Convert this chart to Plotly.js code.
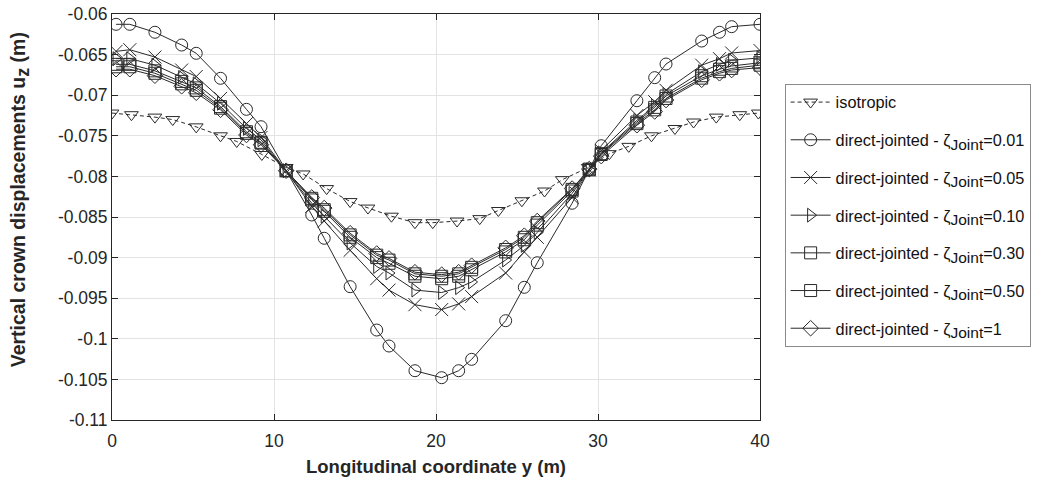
<!DOCTYPE html>
<html>
<head>
<meta charset="utf-8">
<script src="https://cdn.plot.ly/plotly-3.0.1.min.js"></script>
<style>
  html, body { margin: 0; padding: 0; background: #fff; }
  #chart { width: 1043px; height: 480px; }
</style>
</head>
<body>
<div id="chart"></div>
<script>
// x positions (m)
const xIso = [0, 1.2, 2.65, 3.75, 5.2, 6.7, 7.7, 9.25, 10.75, 11.8, 13.25, 14.7, 15.8, 17.25, 18.7, 19.8, 21.3, 22.7, 23.85, 25.3, 26.7, 27.8, 29.4, 30.7, 31.9, 33.3, 34.75, 35.9, 37.3, 38.75, 39.9];
const xJoint = [0.25, 1.1, 2.65, 4.3, 5.2, 6.7, 8.3, 9.2, 10.75, 12.33, 13.1, 14.7, 16.34, 17.1, 18.7, 20.35, 21.4, 22.2, 24.3, 25.45, 26.25, 28.4, 29.46, 30.2, 32.4, 33.5, 34.2, 36.4, 37.5, 38.25, 40];

// vertical crown displacements (m)
const isotropic = [-0.0722, -0.0724, -0.0727, -0.0730, -0.0739, -0.0750, -0.0757, -0.0773, -0.0789, -0.0797, -0.0815, -0.0831, -0.0839, -0.0849, -0.0857, -0.0857, -0.0855, -0.0852, -0.0842, -0.0830, -0.0818, -0.0804, -0.0789, -0.0772, -0.0763, -0.0750, -0.0741, -0.0733, -0.0727, -0.0724, -0.0722];
const zeta001 = [-0.06127, -0.06127, -0.06225, -0.06382, -0.06484, -0.06792, -0.07174, -0.07388, -0.0793, -0.08475, -0.08762, -0.09358, -0.09892, -0.10089, -0.10393, -0.10479, -0.10393, -0.10253, -0.09777, -0.09366, -0.09063, -0.08331, -0.0792, -0.07622, -0.07068, -0.06784, -0.06616, -0.06333, -0.06225, -0.06156, -0.06127];
const zeta005 = [-0.0646, -0.0644, -0.0653, -0.0669, -0.0677, -0.0704, -0.0735, -0.0752, -0.0793, -0.0837, -0.0855, -0.0891, -0.0926, -0.0940, -0.0958, -0.0964, -0.0957, -0.0948, -0.0919, -0.0893, -0.0875, -0.0826, -0.0792, -0.0768, -0.0725, -0.0708, -0.0694, -0.0663, -0.0655, -0.0648, -0.0645];
const zeta010 = [-0.0655, -0.0655, -0.0663, -0.0678, -0.0686, -0.0710, -0.0741, -0.0755, -0.0793, -0.0833, -0.0849, -0.0882, -0.0911, -0.0919, -0.0940, -0.0943, -0.0937, -0.0930, -0.0903, -0.0885, -0.0869, -0.0821, -0.0792, -0.0771, -0.0731, -0.0713, -0.0699, -0.0671, -0.0662, -0.0657, -0.0654];
const zeta030 = [-0.0662, -0.0662, -0.0670, -0.0683, -0.0691, -0.0714, -0.0745, -0.0758, -0.0793, -0.0829, -0.0843, -0.0875, -0.0900, -0.0907, -0.0923, -0.0926, -0.0923, -0.0915, -0.0893, -0.0878, -0.0860, -0.0818, -0.0792, -0.0772, -0.0733, -0.0715, -0.0701, -0.0676, -0.0668, -0.0664, -0.0660];
const zeta050 = [-0.0665, -0.0665, -0.0673, -0.0686, -0.0694, -0.0716, -0.0747, -0.0759, -0.0793, -0.0827, -0.0841, -0.0872, -0.0897, -0.0903, -0.0920, -0.0923, -0.0920, -0.0912, -0.0890, -0.0875, -0.0857, -0.0816, -0.0791, -0.0773, -0.0735, -0.0718, -0.0704, -0.0679, -0.0671, -0.0667, -0.0663];
const zeta1 = [-0.0668, -0.0668, -0.0676, -0.0689, -0.0697, -0.0718, -0.0749, -0.0761, -0.0793, -0.0826, -0.0839, -0.0870, -0.0895, -0.0901, -0.0918, -0.0921, -0.0918, -0.0910, -0.0888, -0.0873, -0.0855, -0.0815, -0.0791, -0.0775, -0.0737, -0.0720, -0.0706, -0.0681, -0.0673, -0.0669, -0.0666];

const SUB = s => '<sub><span style="font-size:15.5px">' + s + '</span></sub>';
const seriesNames = [
  'isotropic',
  'direct-jointed - ζ' + SUB('Joint') + '=0.01',
  'direct-jointed - ζ' + SUB('Joint') + '=0.05',
  'direct-jointed - ζ' + SUB('Joint') + '=0.10',
  'direct-jointed - ζ' + SUB('Joint') + '=0.30',
  'direct-jointed - ζ' + SUB('Joint') + '=0.50',
  'direct-jointed - ζ' + SUB('Joint') + '=1'
];
const xTitle = '<b>Longitudinal coordinate y (m)</b>';
const yTitle = '<b>Vertical crown displacements u<sub><span style="font-size:18px">z</span></sub> (m)</b>';

const yTickVals = [-0.06, -0.065, -0.07, -0.075, -0.08, -0.085, -0.09, -0.095, -0.1, -0.105, -0.11];
const yTickText = ['-0.06', '-0.065', '-0.07', '-0.075', '-0.08', '-0.085', '-0.09', '-0.095', '-0.1', '-0.105', '-0.11'];
const xTickVals = [0, 10, 20, 30, 40];
const xTickText = ['0', '10', '20', '30', '40'];

const ink = '#262626';
const lineCol = '#2a2a2a';

function mk(name, x, y, symbol, dash, group) {
  return {
    type: 'scatter', mode: 'lines+markers', name: name, x: x, y: y,
    legendgroup: group,
    line: { color: lineCol, width: 1, dash: dash },
    marker: { symbol: symbol, size: 12, color: lineCol, line: { color: lineCol, width: 1 } }
  };
}

const data = [
  mk(seriesNames[0], xIso, isotropic, 'triangle-down-open', '4px,3px', 'g0'),
  mk(seriesNames[1], xJoint, zeta001, 'circle-open', 'solid', 'g1'),
  mk(seriesNames[2], xJoint, zeta005, 'x-thin-open', 'solid', 'g2'),
  mk(seriesNames[3], xJoint, zeta010, 'triangle-right-open', 'solid', 'g3'),
  mk(seriesNames[4], xJoint, zeta030, 'square-open', 'solid', 'g4'),
  mk(seriesNames[5], xJoint, zeta050, 'square-open', 'solid', 'g5'),
  mk(seriesNames[6], xJoint, zeta1, 'diamond-open', 'solid', 'g6')
];
data[2].marker.size = 13;

const layout = {
  width: 1043, height: 480,
  margin: { l: 112, r: 281, t: 14, b: 60 },
  paper_bgcolor: '#fff', plot_bgcolor: '#fff',
  font: { family: 'Liberation Sans, Arial, sans-serif', color: ink },
  xaxis: {
    range: [0, 40], tickvals: xTickVals, ticktext: xTickText,
    showgrid: true, gridcolor: '#e3e3e3', gridwidth: 1,
    showline: true, linecolor: ink, linewidth: 1, mirror: 'ticks',
    ticks: 'inside', ticklen: 6, tickcolor: ink,
    tickfont: { size: 17.5, color: ink }, zeroline: false, ticklabelstandoff: 5,
    title: { text: xTitle, font: { size: 18.5, color: ink }, standoff: 10 }
  },
  yaxis: {
    range: [-0.11, -0.06], tickvals: yTickVals, ticktext: yTickText,
    showgrid: true, gridcolor: '#e3e3e3', gridwidth: 1,
    showline: true, linecolor: ink, linewidth: 1, mirror: 'ticks',
    ticks: 'inside', ticklen: 6, tickcolor: ink,
    tickfont: { size: 17.5, color: ink }, zeroline: false
  },
  annotations: [{
    text: yTitle, textangle: -90, showarrow: false,
    xref: 'paper', yref: 'paper',
    x: (20 - 112) / 650, y: (420 - 200) / 406,
    xanchor: 'center', yanchor: 'middle',
    font: { size: 19.5, color: ink }
  }],
  showlegend: true,
  legend: {
    x: 1.038, xanchor: 'left', y: 0.8276, yanchor: 'top',
    bgcolor: '#fff', bordercolor: '#8a8a8a', borderwidth: 1,
    font: { size: 16.3, color: '#111' },
    tracegroupgap: 13.5, itemwidth: 40,
    traceorder: 'grouped'
  }
};

Plotly.newPlot('chart', data, layout, { staticPlot: true, displayModeBar: false });
</script>
</body>
</html>
